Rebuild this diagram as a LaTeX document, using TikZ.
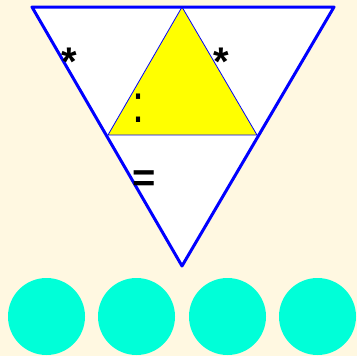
\documentclass[tikz,border=0pt]{standalone}
\usepackage{fontspec}
\setmainfont{Liberation Sans}
\definecolor{bgcream}{HTML}{FFF8E1}
\definecolor{tblue}{HTML}{0000FF}
\definecolor{tyellow}{HTML}{FFFF00}
\definecolor{tcyan}{HTML}{00FFD8}
\begin{document}
\begin{tikzpicture}[x=1pt,y=-1pt,
  bigtri/.style={draw=tblue,line width=3pt,line join=round},
  thinline/.style={draw=tblue,line width=0.8pt},
  disc/.style={circle,fill=tcyan,minimum size=77pt,inner sep=0pt},
  sym/.style={font=\fontsize{40}{40}\selectfont\bfseries,inner sep=0pt,text=black}]
\fill[bgcream] (0,0) rectangle (357,356);
\useasboundingbox (0,0) rectangle (357,356);
\coordinate (A) at (32,7);
\coordinate (B) at (334,7);
\coordinate (C) at (182,266);
\coordinate (T) at (182,7);
\coordinate (L) at (108,135);
\coordinate (R) at (257,135);
\fill[white] (A) -- (B) -- (C) -- cycle;
\filldraw[fill=tyellow,thinline,line join=round] (T) -- (L) -- (R) -- cycle;
\draw[bigtri] (A) -- (B) -- (C) -- cycle;
\node[sym] (s1) at (69,62) {*};
\node[sym] (s2) at (221,62) {*};
\node[inner sep=0pt,font=\fontsize{54}{54}\selectfont] (c1) at (139,108) {\scalebox{0.8}[1]{:}};
\node[sym] (e1) at (144,181) {=};
\node[disc] (d1) at (46.5,316.5) {};
\node[disc] (d2) at (136.5,316.5) {};
\node[disc] (d3) at (227.5,316.5) {};
\node[disc] (d4) at (317.5,316.5) {};
\end{tikzpicture}
\end{document}
